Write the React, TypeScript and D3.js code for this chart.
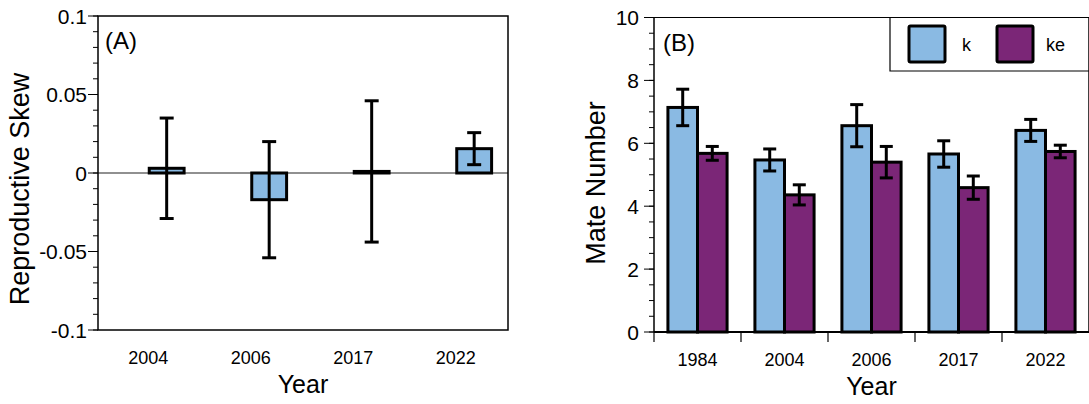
import React from 'react';
import * as d3 from 'd3';

// panel A: reproductive skew by year
const skewYears = ['2004', '2006', '2017', '2022'];
const skewMean = [0.003, -0.017, 0.001, 0.0155];
const skewErr = [0.032, 0.037, 0.045, 0.0102];
const skewTicks = [-0.1, -0.05, 0, 0.05, 0.1];
const skewTickLabels = ['-0.1', '-0.05', '0', '0.05', '0.1'];

// panel B: mate number by year, two groups
const mateYears = ['1984', '2004', '2006', '2017', '2022'];
const mateSeries = ['k', 'ke'];
const mateK = [7.14, 5.47, 6.56, 5.66, 6.41];
const mateKErr = [0.58, 0.35, 0.67, 0.42, 0.35];
const mateKe = [5.68, 4.36, 5.4, 4.59, 5.74];
const mateKeErr = [0.22, 0.32, 0.5, 0.37, 0.2];
const mateTicks = [0, 2, 4, 6, 8, 10];

const BLUE = '#8abae3';
const PURPLE = '#7b2677';
const FONT = "'Liberation Sans', Arial, sans-serif";

const ErrorBar = ({ x, y0, y1, cap = 14 }) => (
  <g stroke="#000" strokeWidth={3}>
    <line x1={x} x2={x} y1={y0} y2={y1} />
    <line x1={x - cap / 2} x2={x + cap / 2} y1={y0} y2={y0} />
    <line x1={x - cap / 2} x2={x + cap / 2} y1={y1} y2={y1} />
  </g>
);

const PanelA = () => {
  const left = 98, right = 508, top = 16, bottom = 330;
  const x = d3.scaleBand().domain(skewYears).range([left, right]).paddingInner(0.32).paddingOuter(0.16);
  const y = d3.scaleLinear().domain([-0.1, 0.1]).range([bottom, top]);
  const minor = d3.range(-0.1, 0.1001, 0.01);
  const half = x.bandwidth() / 2;

  return (
    <g>
      {/* minor + major ticks */}
      {minor.map((v, i) => (
        <line key={'m' + i} x1={left - 5} x2={left} y1={y(v)} y2={y(v)} stroke="#000" strokeWidth={1} />
      ))}
      {skewTicks.map((v, i) => (
        <g key={'t' + i}>
          <line x1={left - 10} x2={left} y1={y(v)} y2={y(v)} stroke="#000" strokeWidth={1} />
          <text x={left - 11} y={y(v)} dy="0.36em" textAnchor="end" fontSize={21} fontFamily={FONT}>
            {skewTickLabels[i]}
          </text>
        </g>
      ))}
      {/* zero line */}
      <line x1={left} x2={right} y1={y(0)} y2={y(0)} stroke="#222" strokeWidth={1.2} />
      {/* bars */}
      {skewYears.map((yr, i) => {
        const bx = x(yr) + half;
        const v = skewMean[i];
        const y0 = Math.min(y(v), y(0));
        const h = Math.max(Math.abs(y(v) - y(0)), 1);
        return (
          <g key={yr}>
            <rect x={bx} y={y0} width={half} height={h} fill={BLUE} stroke="#000" strokeWidth={3} />
            <ErrorBar x={bx + half / 2} y0={y(v + skewErr[i])} y1={y(v - skewErr[i])} />
          </g>
        );
      })}
      <rect x={left} y={top} width={right - left} height={bottom - top} fill="none" stroke="#000" strokeWidth={1.5} />
      {skewYears.map((yr) => (
        <text key={'l' + yr} x={x(yr) + half - 1} y={364} textAnchor="middle" fontSize={18} fontFamily={FONT}>
          {yr}
        </text>
      ))}
      <text x={105} y={49} fontSize={24} fontFamily={FONT}>(A)</text>
      <text x={(left + right) / 2} y={393} textAnchor="middle" fontSize={25} fontFamily={FONT}>Year</text>
      <text transform={`translate(29, 189) rotate(-90)`} textAnchor="middle" fontSize={27} fontFamily={FONT}>
        Reproductive Skew
      </text>
    </g>
  );
};

const PanelB = () => {
  const left = 654, right = 1089, top = 17.5, bottom = 332;
  const x = d3.scaleBand().domain(mateYears).range([left, right]).paddingInner(0.32).paddingOuter(0.16);
  const sub = d3.scaleBand().domain(mateSeries).range([0, x.bandwidth()]);
  const y = d3.scaleLinear().domain([0, 10]).range([bottom, top]);
  const minor = d3.range(0, 10.001, 0.5);
  const step = x.step();
  const series = [
    { key: 'k', vals: mateK, err: mateKErr, color: BLUE },
    { key: 'ke', vals: mateKe, err: mateKeErr, color: PURPLE },
  ];

  return (
    <g>
      {minor.map((v, i) => (
        <line key={'m' + i} x1={left - 5} x2={left} y1={y(v)} y2={y(v)} stroke="#000" strokeWidth={1} />
      ))}
      {mateTicks.map((v) => (
        <g key={'t' + v}>
          <line x1={left - 10} x2={left} y1={y(v)} y2={y(v)} stroke="#000" strokeWidth={1} />
          <text x={left - 15} y={y(v)} dy="0.36em" textAnchor="end" fontSize={21} fontFamily={FONT}>
            {v}
          </text>
        </g>
      ))}
      {/* x ticks at band boundaries */}
      {mateYears.map((yr) => {
        const tx = x(yr) - (step - x.bandwidth()) / 2;
        return <line key={'xt' + yr} x1={tx} x2={tx} y1={bottom} y2={bottom + 10} stroke="#000" strokeWidth={1.2} />;
      })}
      {series.map((s) =>
        mateYears.map((yr, i) => {
          const bx = x(yr) + sub(s.key);
          const bw = sub.bandwidth();
          return (
            <g key={s.key + yr}>
              <rect x={bx} y={y(s.vals[i])} width={bw} height={y(0) - y(s.vals[i])} fill={s.color} stroke="#000" strokeWidth={3} />
              <ErrorBar x={bx + bw / 2} y0={y(s.vals[i] + s.err[i])} y1={y(s.vals[i] - s.err[i])} cap={13} />
            </g>
          );
        })
      )}
      <line x1={left} x2={left} y1={top} y2={bottom} stroke="#000" strokeWidth={1.5} />
      <line x1={left} x2={right} y1={top} y2={top} stroke="#000" strokeWidth={1.2} />
      <line x1={left} x2={right} y1={bottom} y2={bottom} stroke="#000" strokeWidth={2} />
      <line x1={right} x2={right} y1={top} y2={bottom} stroke="#000" strokeWidth={1.5} />
      {/* legend */}
      <g>
        <path d={`M${right},71 H890 V${top}`} fill="none" stroke="#000" strokeWidth={1.2} />
        {series.map((s, i) => (
          <g key={'lg' + s.key}>
            <rect x={909 + i * 88} y={26} width={36} height={36} fill={s.color} stroke="#000" strokeWidth={3} rx={1.5} />
            <text x={962 + i * 84} y={51} fontSize={18} fontFamily={FONT}>{s.key}</text>
          </g>
        ))}
      </g>
      {mateYears.map((yr) => (
        <text key={'l' + yr} x={x(yr) + x.bandwidth() / 2} y={366} textAnchor="middle" fontSize={18} fontFamily={FONT}>
          {yr}
        </text>
      ))}
      <text x={663} y={51} fontSize={24} fontFamily={FONT}>(B)</text>
      <text x={(left + right) / 2} y={395} textAnchor="middle" fontSize={25} fontFamily={FONT}>Year</text>
      <text transform={`translate(605, 183) rotate(-90)`} textAnchor="middle" fontSize={27} fontFamily={FONT}>
        Mate Number
      </text>
    </g>
  );
};

export default function App() {
  return (
    <svg
      width={1089}
      height={404}
      style={{ position: 'absolute', left: 0, top: 0, background: '#fff' }}
    >
      <PanelA />
      <PanelB />
    </svg>
  );
}
